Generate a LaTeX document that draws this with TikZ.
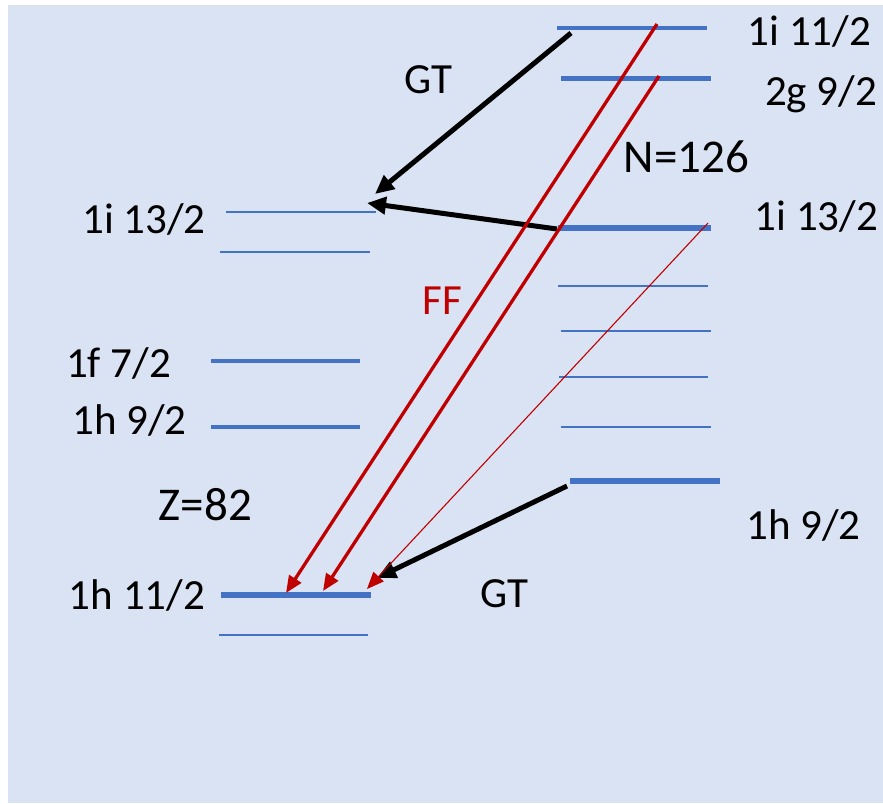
\documentclass[tikz,border=0pt]{standalone}
\usepackage{fontspec}
\setmainfont{Carlito}
\usetikzlibrary{arrows.meta}
\definecolor{bgblue}{HTML}{DAE3F3}
\definecolor{lvblue}{HTML}{4472C4}
\definecolor{ffred}{HTML}{C00000}
\begin{document}
\begin{tikzpicture}[x=1pt,y=-1pt,
  lbl/.style={inner sep=0pt,anchor=base,font=\fontsize{43}{51}\selectfont},
  biglbl/.style={lbl,font=\fontsize{47}{56}\selectfont},
  thicklv/.style={draw=lvblue,line width=5pt},
  thinlv/.style={draw=lvblue,line width=1.5pt},
  gtarrow/.style={draw=black,line width=5pt,-{Triangle[length=19pt,width=17pt]}},
  ffarrow/.style={draw=ffred,line width=3.3pt,-{Triangle[length=17pt,width=14pt]}},
  ffthin/.style={draw=ffred,line width=1.1pt,-{Triangle[length=17pt,width=14pt]}}]
\useasboundingbox (0,0) rectangle (883,803);
\fill[white] (0,0) rectangle (883,803);
\fill[bgblue] (8,5) rectangle (883,803);
% right levels
\draw[thicklv,line width=4pt] (557,28) -- (707,28);
\draw[thicklv] (561,78) -- (711,78);
\draw[thicklv,line width=6pt] (558,228) -- (711,228);
\draw[thinlv] (558,286) -- (708,286);
\draw[thinlv] (561,331) -- (711,331);
\draw[thinlv] (559,377) -- (708,377);
\draw[thinlv] (561,427) -- (711,427);
\draw[thicklv,line width=6pt] (570,481) -- (720,481);
% left levels
\draw[thinlv] (226,212) -- (376,212);
\draw[thinlv] (220,252) -- (370,252);
\draw[thicklv,line width=4pt] (211,361) -- (360,361);
\draw[thicklv,line width=4pt] (211,427) -- (360,427);
\draw[thicklv,line width=6pt] (221,595) -- (371,595);
\draw[thinlv] (219,635) -- (368,635);
% labels
\node[lbl] (l1) at (809.5,45) {1i 11/2};
\node[lbl] (l2) at (821,105) {2g 9/2};
\node[biglbl] (l3) at (686.5,172) {N=126};
\node[lbl] (l4) at (816.5,230) {1i 13/2};
\node[lbl] (l5) at (428.5,93) {GT};
\node[lbl] (l6) at (144,233) {1i 13/2};
\node[lbl,text=ffred] (l7) at (442.5,314) {FF};
\node[lbl] (l8) at (118.5,377) {1f 7/2};
\node[lbl] (l9) at (129.5,434) {1h 9/2};
\node[biglbl] (l10) at (205.5,520) {Z=82};
\node[lbl] (l11) at (137,609) {1h 11/2};
\node[lbl] (l12) at (504,607) {GT};
\node[lbl] (l13) at (803.5,539) {1h 9/2};
% arrow endpoints
\coordinate (a1s) at (571,33);
\coordinate (a1e) at (375,194);
\coordinate (a2s) at (557,229);
\coordinate (a2e) at (367,203);
\coordinate (f1s) at (657,24);
\coordinate (f1e) at (286,593);
\coordinate (f2s) at (659,76);
\coordinate (f2e) at (323,591);
\coordinate (f3s) at (708,223);
\coordinate (f3e) at (367,589);
\coordinate (a3s) at (567,486);
\coordinate (a3e) at (377,578);
% arrows
\draw[gtarrow] (a1s) -- (a1e);
\draw[gtarrow] (a2s) -- (a2e);
\draw[gtarrow] (a3s) -- (a3e);
\draw[ffarrow] (f1s) -- (f1e);
\draw[ffarrow] (f2s) -- (f2e);
\draw[ffthin] (f3s) -- (f3e);
\end{tikzpicture}
\end{document}
